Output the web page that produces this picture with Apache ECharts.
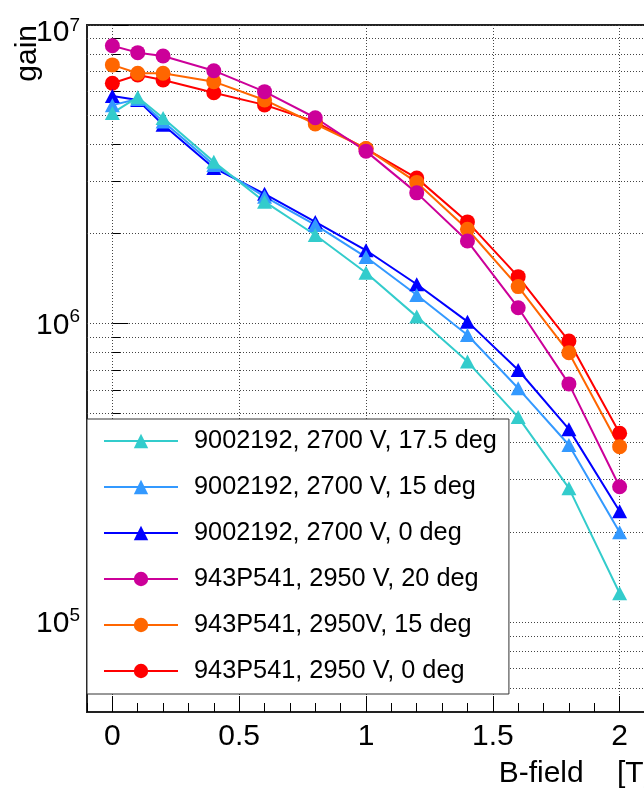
<!DOCTYPE html>
<html>
<head>
<meta charset="utf-8">
<script src="https://cdn.jsdelivr.net/npm/echarts@6/dist/echarts.min.js"></script>
<style>
  html, body { margin: 0; padding: 0; background: #fff; }
  #chart { width: 644px; height: 795px; }
</style>
</head>
<body>
<div id="chart"></div>
<script>
// Magnetic field values [T] at which the gain was measured
const bField = [0, 0.1, 0.2, 0.4, 0.6, 0.8, 1.0, 1.2, 1.4, 1.6, 1.8, 2.0];

// PMT 9002192 at 2700 V
const gain9002192deg17p5 = [5.07e6, 5.73e6, 4.88e6, 3.48e6, 2.56e6, 1.98e6, 1.48e6, 1.055e6, 7.46e5, 4.86e5, 2.81e5, 1.25e5];
const gain9002192deg15   = [5.39e6, 5.65e6, 4.75e6, 3.40e6, 2.66e6, 2.14e6, 1.67e6, 1.247e6, 9.16e5, 6.07e5, 3.92e5, 2.00e5];
const gain9002192deg0    = [5.78e6, 5.61e6, 4.63e6, 3.32e6, 2.72e6, 2.19e6, 1.76e6, 1.354e6, 1.015e6, 6.99e5, 4.43e5, 2.35e5];

// PMT 943P541 at 2950 V
const gain943P541deg20 = [8.52e6, 8.08e6, 7.87e6, 7.03e6, 5.98e6, 4.89e6, 3.78e6, 2.74e6, 1.89e6, 1.13e6, 6.28e5, 2.84e5];
const gain943P541deg15 = [7.35e6, 6.89e6, 6.89e6, 6.46e6, 5.61e6, 4.66e6, 3.86e6, 2.97e6, 2.07e6, 1.33e6, 7.99e5, 3.87e5];
const gain943P541deg0  = [6.38e6, 6.80e6, 6.54e6, 5.93e6, 5.40e6, 4.74e6, 3.85e6, 3.07e6, 2.19e6, 1.436e6, 8.74e5, 4.29e5];

// Series labels (legend order)
const seriesNames = [
  '9002192, 2700 V, 17.5 deg',
  '9002192, 2700 V, 15 deg',
  '9002192, 2700 V, 0 deg',
  '943P541, 2950 V, 20 deg',
  '943P541, 2950V, 15 deg',
  '943P541, 2950 V, 0 deg'
];

// Axis ticks
const xMajorTicks = [0, 0.5, 1, 1.5, 2];
const yMajorTicks = [1e5, 1e6, 1e7];
const yMinorTicks = [6e4, 7e4, 8e4, 9e4,
                     2e5, 3e5, 4e5, 5e5, 6e5, 7e5, 8e5, 9e5,
                     2e6, 3e6, 4e6, 5e6, 6e6, 7e6, 8e6, 9e6];

const FONT = '"Liberation Sans", Arial, Helvetica, sans-serif';
const gridLine = { type: [1, 2], color: '#444', width: 1 };

function makeSeries(name, values, color, symbol) {
  const isTri = symbol === 'triangle';
  return {
    name: name,
    type: 'line',
    xAxisIndex: 0,
    yAxisIndex: 0,
    data: bField.map((b, i) => [b, values[i]]),
    symbol: symbol,
    symbolSize: isTri ? [15, 14] : 15,
    showAllSymbol: true,
    lineStyle: { color: color, width: 2 },
    itemStyle: { color: color },
    emphasis: { disabled: true }
  };
}

const chart = echarts.init(document.getElementById('chart'), null, { renderer: 'canvas' });

chart.setOption({
  animation: false,
  backgroundColor: '#fff',
  textStyle: { fontFamily: FONT },
  grid: {
    left: 87, top: 25, width: 558, height: 687,
    containLabel: false,
    outerBoundsMode: 'none',
    show: true, borderColor: '#222', borderWidth: 2, backgroundColor: 'transparent'
  },
  legend: {
    orient: 'vertical',
    left: 87, top: 419,
    data: seriesNames,
    backgroundColor: '#fff',
    borderColor: '#333',
    borderWidth: 1,
    padding: [9, 12, 10, 16],
    itemWidth: 74,
    itemHeight: 18,
    itemGap: 20,
    selectedMode: false,
    textStyle: { fontSize: 25.3, color: '#000', fontFamily: FONT, lineHeight: 26, padding: [0, 0, 0, 11] }
  },
  xAxis: [
    {
      type: 'value', min: -0.1, max: 2.1, interval: 0.1,
      name: 'B-field    [T]',
      nameLocation: 'end', nameGap: 7, nameMoveOverlap: false,
      nameTextStyle: { fontSize: 30, color: '#000', fontFamily: FONT, align: 'right', verticalAlign: 'top', padding: [47, 0, 0, 0] },
      axisLine: { show: false },
      axisTick: { show: true, inside: true, length: 16, customValues: xMajorTicks, lineStyle: { color: '#000', width: 1 } },
      axisLabel: { customValues: xMajorTicks, fontSize: 30, margin: 10, color: '#000', fontFamily: FONT },
      splitLine: { show: true, lineStyle: gridLine }
    },
    {
      type: 'value', min: -0.1, max: 2.1, interval: 0.1, position: 'bottom',
      axisLine: { show: false },
      axisTick: { show: true, inside: true, length: 9, lineStyle: { color: '#000', width: 1 } },
      axisLabel: { show: false },
      splitLine: { show: false }
    }
  ],
  yAxis: [
    {
      type: 'log', logBase: 10, min: 5e4, max: 1e7, position: 'left',
      name: 'gain', nameLocation: 'end', nameGap: 0, nameRotate: 90, nameMoveOverlap: false,
      nameTextStyle: { fontSize: 30, color: '#000', fontFamily: FONT, align: 'right', verticalAlign: 'bottom', padding: [0, 0, 70, 0] },
      axisLine: { show: false },
      axisTick: { show: true, inside: true, length: 16, customValues: yMajorTicks, lineStyle: { color: '#000', width: 1 } },
      axisLabel: {
        customValues: yMajorTicks, margin: 7, color: '#000', fontFamily: FONT,
        formatter: function (v) {
          const e = Math.round(Math.log10(v));
          return e === 7 ? '{bt|10}{st|' + e + '}' : '{b|10}{s|' + e + '}';
        },
        rich: {
          b: { fontSize: 30, lineHeight: 40, padding: [4, 0, 0, 0], fontFamily: FONT, color: '#000' },
          s: { fontSize: 19, lineHeight: 19, padding: [4, 0, 0, 0], verticalAlign: 'top', fontFamily: FONT, color: '#000' },
          bt: { fontSize: 30, lineHeight: 40, padding: [16, 0, 0, 0], fontFamily: FONT, color: '#000' },
          st: { fontSize: 19, lineHeight: 19, padding: [11, 0, 0, 0], verticalAlign: 'top', fontFamily: FONT, color: '#000' }
        }
      },
      splitLine: { show: true, lineStyle: gridLine }
    },
    {
      type: 'log', logBase: 10, min: 5e4, max: 1e7, position: 'left',
      axisLine: { show: false },
      axisTick: { show: true, inside: true, length: 8, customValues: yMinorTicks, lineStyle: { color: '#000', width: 1 } },
      axisLabel: { show: false },
      splitLine: { show: true, lineStyle: gridLine }
    }
  ],
  series: [
    makeSeries(seriesNames[5], gain943P541deg0, '#ff0000', 'circle'),
    makeSeries(seriesNames[4], gain943P541deg15, '#ff6600', 'circle'),
    makeSeries(seriesNames[3], gain943P541deg20, '#cc0099', 'circle'),
    makeSeries(seriesNames[2], gain9002192deg0, '#0000ff', 'triangle'),
    makeSeries(seriesNames[1], gain9002192deg15, '#3399ff', 'triangle'),
    makeSeries(seriesNames[0], gain9002192deg17p5, '#33cccc', 'triangle')
  ]
});
</script>
</body>
</html>
